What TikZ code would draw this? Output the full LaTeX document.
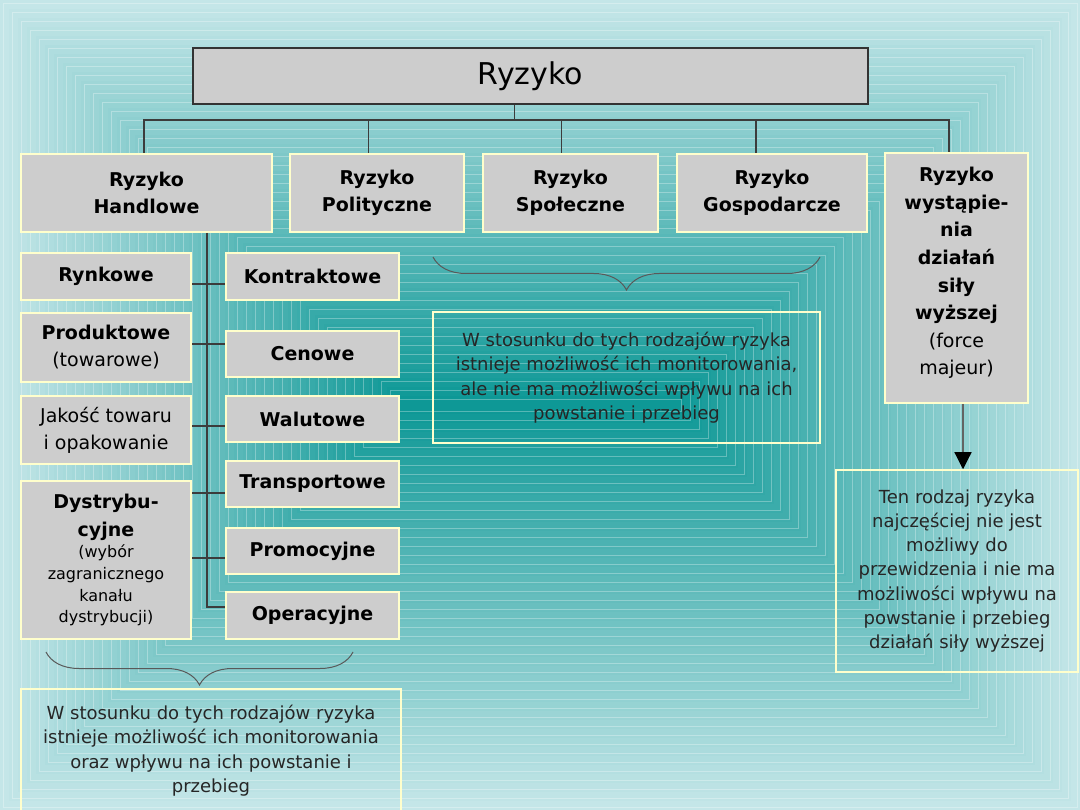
\documentclass[tikz,border=0pt]{standalone}
\usepackage{fontspec}
\setmainfont{DejaVu Sans}
\usetikzlibrary{arrows.meta,decorations.pathreplacing,calc}
\definecolor{edgecol}{HTML}{C4E6E8}
\definecolor{midcol}{HTML}{0E9896}
\definecolor{boxfill}{HTML}{CDCDCD}
\definecolor{boxline}{HTML}{FFFFCC}
\definecolor{conn}{HTML}{3C3C3C}
\newcommand\myfs[2]{\fontsize{#1}{#2}\selectfont}
\tikzset{
  gbox/.style={draw=boxline, line width=2pt, fill=boxfill, inner sep=0pt,
    align=center, text=black, font=\bfseries\myfs{19}{27}},
  tbox/.style={draw=boxline, line width=1.5pt, inner sep=0pt,
    align=center, text=black!85, font=\myfs{18}{24.5}},
  conline/.style={draw=conn, line width=1.2pt},
  bracestyle/.style={decorate, decoration={brace, amplitude=33pt, mirror},
    draw=conn!85, line width=1pt}
}
\begin{document}
\begin{tikzpicture}[x=1pt,y=-1pt]
\useasboundingbox (0,0) rectangle (1080,810);
% background
\foreach \i in {0,...,44} {
  \pgfmathsetmacro\d{\i*9}
  \pgfmathsetmacro\p{\i*100/44}
  \fill[midcol!\p!edgecol] (\d,\d) rectangle (1080-\d,810-\d);
  \draw[white, opacity=0.3, line width=0.6pt] (\d+3,\d+3) rectangle (1077-\d,807-\d);
}
% top
\node[gbox, draw=black!80, font=\myfs{30}{34}, minimum width=675pt, minimum height=56pt] (top) at (530.5,76) {Ryzyko};
% second row
\node[gbox, minimum width=251pt, minimum height=78pt] (handl) at (146.5,193) {Ryzyko\\Handlowe};
\node[gbox, minimum width=174pt, minimum height=78pt] (polit) at (377,193) {Ryzyko\\Polityczne};
\node[gbox, minimum width=175pt, minimum height=78pt] (spol) at (570.5,193) {Ryzyko\\Społeczne};
\node[gbox, minimum width=190pt, minimum height=78pt] (gosp) at (772,193) {Ryzyko\\Gospodarcze};
\node[gbox, minimum width=143pt, minimum height=250pt, text width=135pt, font=\bfseries\myfs{19}{27.6}] (force) at (956.5,278)
  {Ryzyko\\wystąpie-\\nia\\działań\\siły\\wyższej\par\mdseries (force\\majeur)\par\vspace{10pt}};
% left column
\node[gbox, minimum width=170pt, minimum height=47pt] (rynk) at (106,276.5) {Rynkowe};
\node[gbox, minimum width=170pt, minimum height=69pt, text width=160pt] (prod) at (106,347.5) {Produktowe\par\mdseries (towarowe)};
\node[gbox, minimum width=170pt, minimum height=68pt, font=\myfs{19}{27}] (jak) at (106,430) {Jakość towaru\\i opakowanie};
\node[gbox, minimum width=170pt, minimum height=158pt, text width=160pt, font=\myfs{16}{21.7}] (dyst) at (106,560)
  {{\bfseries\myfs{19}{28}Dystrybu-\\cyjne\par}(wybór\\zagranicznego\\kanału\\dystrybucji)};
% right column
\node[gbox, minimum width=173pt, minimum height=47pt] (kontr) at (312.5,276.5) {Kontraktowe};
\node[gbox, minimum width=173pt, minimum height=46pt] (cen) at (312.5,354) {Cenowe};
\node[gbox, minimum width=173pt, minimum height=46pt] (walut) at (312.5,419) {Walutowe};
\node[gbox, minimum width=173pt, minimum height=46pt] (transp) at (312.5,484) {Transportowe};
\node[gbox, minimum width=173pt, minimum height=46pt] (promo) at (312.5,551) {Promocyjne};
\node[gbox, minimum width=173pt, minimum height=47pt] (opera) at (312.5,615.5) {Operacyjne};
% text boxes
\node[tbox, minimum width=380pt, minimum height=123pt] (note1) at (211,750.5)
  {W stosunku do tych rodzajów ryzyka\\istnieje możliwość ich monitorowania\\oraz wpływu na ich powstanie i\\przebieg};
\node[tbox, minimum width=387pt, minimum height=131pt] (note2) at (626.5,377.5)
  {W stosunku do tych rodzajów ryzyka\\istnieje możliwość ich monitorowania,\\ale nie ma możliwości wpływu na ich\\powstanie i przebieg};
\node[tbox, minimum width=242pt, minimum height=202pt, font=\myfs{18}{24.1}] (note3) at (957,571)
  {Ten rodzaj ryzyka\\najczęściej nie jest\\możliwy do\\przewidzenia i nie ma\\możliwości wpływu na\\powstanie i przebieg\\działań siły wyższej};
% connectors top
\coordinate (bus) at (514.5,120);
\coordinate (dH) at (144,120);
\coordinate (dP) at (368.5,120);
\coordinate (dS) at (561.5,120);
\coordinate (dG) at (756,120);
\coordinate (dF) at (949,120);
\draw[conline] (top.south -| bus) -- (bus);
\draw[conline] (dH |- handl.north) -- (dH) -- (dF) -- (dF |- force.north);
\draw[conline] (dP) -- (dP |- polit.north);
\draw[conline] (dS) -- (dS |- spol.north);
\draw[conline] (dG) -- (dG |- gosp.north);
% spine
\coordinate (h1) at (207,284);
\coordinate (h2) at (207,344);
\coordinate (h3) at (207,426);
\coordinate (h4) at (207,493);
\coordinate (h5) at (207,558);
\coordinate (h6) at (207,607);
\draw[conline] (handl.south -| h1) -- (h6) -- (opera.west |- h6);
\draw[conline] (rynk.east |- h1) -- (kontr.west |- h1);
\draw[conline] (prod.east |- h2) -- (cen.west |- h2);
\draw[conline] (jak.east |- h3) -- (walut.west |- h3);
\draw[conline] (dyst.east |- h4) -- (transp.west |- h4);
\draw[conline] (dyst.east |- h5) -- (promo.west |- h5);
% braces
\coordinate (b1) at (46,652);
\coordinate (b2) at (353,652);
\coordinate (b3) at (433,257);
\coordinate (b4) at (820,257);
\draw[bracestyle] (b1) -- (b2);
\draw[bracestyle] (b3) -- (b4);
% arrow
\coordinate (ax) at (963,0);
\draw[draw=conn!80, line width=1.2pt, -{Triangle[width=17pt,length=17pt,color=black,fill=black]}] (force.south -| ax) -- (note3.north -| ax);
\end{tikzpicture}
\end{document}
